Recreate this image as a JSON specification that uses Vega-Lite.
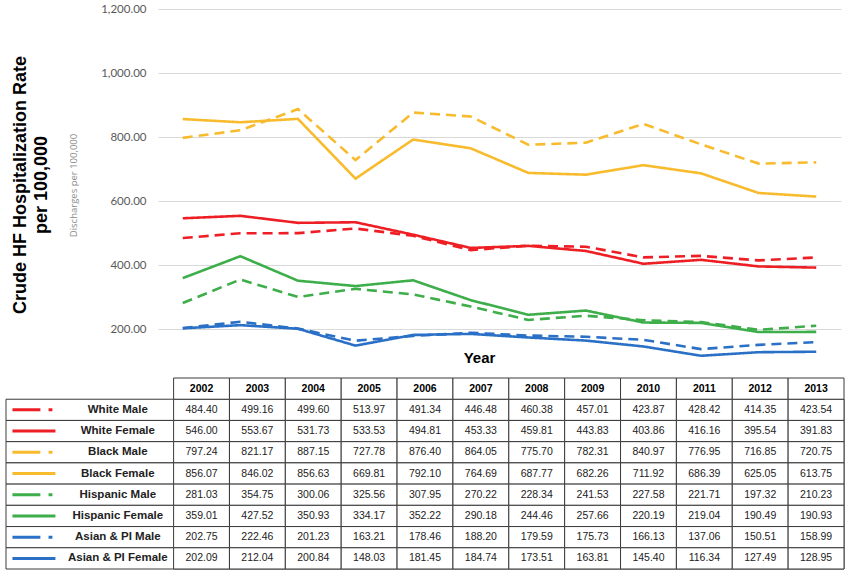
{
  "$schema": "https://vega.github.io/schema/vega-lite/v6.json",
  "padding": {"left": 5, "top": 3, "right": 5, "bottom": 3},
  "background": "white",
  "spacing": 12,
  "config": {"view": {"stroke": null}, "font": "Liberation Sans"},
  "data": {"values": [
    {"series":"White Male","race":"White","sex":"Male","year":2002,"rate":484.40},
    {"series":"White Male","race":"White","sex":"Male","year":2003,"rate":499.16},
    {"series":"White Male","race":"White","sex":"Male","year":2004,"rate":499.60},
    {"series":"White Male","race":"White","sex":"Male","year":2005,"rate":513.97},
    {"series":"White Male","race":"White","sex":"Male","year":2006,"rate":491.34},
    {"series":"White Male","race":"White","sex":"Male","year":2007,"rate":446.48},
    {"series":"White Male","race":"White","sex":"Male","year":2008,"rate":460.38},
    {"series":"White Male","race":"White","sex":"Male","year":2009,"rate":457.01},
    {"series":"White Male","race":"White","sex":"Male","year":2010,"rate":423.87},
    {"series":"White Male","race":"White","sex":"Male","year":2011,"rate":428.42},
    {"series":"White Male","race":"White","sex":"Male","year":2012,"rate":414.35},
    {"series":"White Male","race":"White","sex":"Male","year":2013,"rate":423.54},
    {"series":"White Female","race":"White","sex":"Female","year":2002,"rate":546.00},
    {"series":"White Female","race":"White","sex":"Female","year":2003,"rate":553.67},
    {"series":"White Female","race":"White","sex":"Female","year":2004,"rate":531.73},
    {"series":"White Female","race":"White","sex":"Female","year":2005,"rate":533.53},
    {"series":"White Female","race":"White","sex":"Female","year":2006,"rate":494.81},
    {"series":"White Female","race":"White","sex":"Female","year":2007,"rate":453.33},
    {"series":"White Female","race":"White","sex":"Female","year":2008,"rate":459.81},
    {"series":"White Female","race":"White","sex":"Female","year":2009,"rate":443.83},
    {"series":"White Female","race":"White","sex":"Female","year":2010,"rate":403.86},
    {"series":"White Female","race":"White","sex":"Female","year":2011,"rate":416.16},
    {"series":"White Female","race":"White","sex":"Female","year":2012,"rate":395.54},
    {"series":"White Female","race":"White","sex":"Female","year":2013,"rate":391.83},
    {"series":"Black Male","race":"Black","sex":"Male","year":2002,"rate":797.24},
    {"series":"Black Male","race":"Black","sex":"Male","year":2003,"rate":821.17},
    {"series":"Black Male","race":"Black","sex":"Male","year":2004,"rate":887.15},
    {"series":"Black Male","race":"Black","sex":"Male","year":2005,"rate":727.78},
    {"series":"Black Male","race":"Black","sex":"Male","year":2006,"rate":876.40},
    {"series":"Black Male","race":"Black","sex":"Male","year":2007,"rate":864.05},
    {"series":"Black Male","race":"Black","sex":"Male","year":2008,"rate":775.70},
    {"series":"Black Male","race":"Black","sex":"Male","year":2009,"rate":782.31},
    {"series":"Black Male","race":"Black","sex":"Male","year":2010,"rate":840.97},
    {"series":"Black Male","race":"Black","sex":"Male","year":2011,"rate":776.95},
    {"series":"Black Male","race":"Black","sex":"Male","year":2012,"rate":716.85},
    {"series":"Black Male","race":"Black","sex":"Male","year":2013,"rate":720.75},
    {"series":"Black Female","race":"Black","sex":"Female","year":2002,"rate":856.07},
    {"series":"Black Female","race":"Black","sex":"Female","year":2003,"rate":846.02},
    {"series":"Black Female","race":"Black","sex":"Female","year":2004,"rate":856.63},
    {"series":"Black Female","race":"Black","sex":"Female","year":2005,"rate":669.81},
    {"series":"Black Female","race":"Black","sex":"Female","year":2006,"rate":792.10},
    {"series":"Black Female","race":"Black","sex":"Female","year":2007,"rate":764.69},
    {"series":"Black Female","race":"Black","sex":"Female","year":2008,"rate":687.77},
    {"series":"Black Female","race":"Black","sex":"Female","year":2009,"rate":682.26},
    {"series":"Black Female","race":"Black","sex":"Female","year":2010,"rate":711.92},
    {"series":"Black Female","race":"Black","sex":"Female","year":2011,"rate":686.39},
    {"series":"Black Female","race":"Black","sex":"Female","year":2012,"rate":625.05},
    {"series":"Black Female","race":"Black","sex":"Female","year":2013,"rate":613.75},
    {"series":"Hispanic Male","race":"Hispanic","sex":"Male","year":2002,"rate":281.03},
    {"series":"Hispanic Male","race":"Hispanic","sex":"Male","year":2003,"rate":354.75},
    {"series":"Hispanic Male","race":"Hispanic","sex":"Male","year":2004,"rate":300.06},
    {"series":"Hispanic Male","race":"Hispanic","sex":"Male","year":2005,"rate":325.56},
    {"series":"Hispanic Male","race":"Hispanic","sex":"Male","year":2006,"rate":307.95},
    {"series":"Hispanic Male","race":"Hispanic","sex":"Male","year":2007,"rate":270.22},
    {"series":"Hispanic Male","race":"Hispanic","sex":"Male","year":2008,"rate":228.34},
    {"series":"Hispanic Male","race":"Hispanic","sex":"Male","year":2009,"rate":241.53},
    {"series":"Hispanic Male","race":"Hispanic","sex":"Male","year":2010,"rate":227.58},
    {"series":"Hispanic Male","race":"Hispanic","sex":"Male","year":2011,"rate":221.71},
    {"series":"Hispanic Male","race":"Hispanic","sex":"Male","year":2012,"rate":197.32},
    {"series":"Hispanic Male","race":"Hispanic","sex":"Male","year":2013,"rate":210.23},
    {"series":"Hispanic Female","race":"Hispanic","sex":"Female","year":2002,"rate":359.01},
    {"series":"Hispanic Female","race":"Hispanic","sex":"Female","year":2003,"rate":427.52},
    {"series":"Hispanic Female","race":"Hispanic","sex":"Female","year":2004,"rate":350.93},
    {"series":"Hispanic Female","race":"Hispanic","sex":"Female","year":2005,"rate":334.17},
    {"series":"Hispanic Female","race":"Hispanic","sex":"Female","year":2006,"rate":352.22},
    {"series":"Hispanic Female","race":"Hispanic","sex":"Female","year":2007,"rate":290.18},
    {"series":"Hispanic Female","race":"Hispanic","sex":"Female","year":2008,"rate":244.46},
    {"series":"Hispanic Female","race":"Hispanic","sex":"Female","year":2009,"rate":257.66},
    {"series":"Hispanic Female","race":"Hispanic","sex":"Female","year":2010,"rate":220.19},
    {"series":"Hispanic Female","race":"Hispanic","sex":"Female","year":2011,"rate":219.04},
    {"series":"Hispanic Female","race":"Hispanic","sex":"Female","year":2012,"rate":190.49},
    {"series":"Hispanic Female","race":"Hispanic","sex":"Female","year":2013,"rate":190.93},
    {"series":"Asian & PI Male","race":"Asian & PI","sex":"Male","year":2002,"rate":202.75},
    {"series":"Asian & PI Male","race":"Asian & PI","sex":"Male","year":2003,"rate":222.46},
    {"series":"Asian & PI Male","race":"Asian & PI","sex":"Male","year":2004,"rate":201.23},
    {"series":"Asian & PI Male","race":"Asian & PI","sex":"Male","year":2005,"rate":163.21},
    {"series":"Asian & PI Male","race":"Asian & PI","sex":"Male","year":2006,"rate":178.46},
    {"series":"Asian & PI Male","race":"Asian & PI","sex":"Male","year":2007,"rate":188.20},
    {"series":"Asian & PI Male","race":"Asian & PI","sex":"Male","year":2008,"rate":179.59},
    {"series":"Asian & PI Male","race":"Asian & PI","sex":"Male","year":2009,"rate":175.73},
    {"series":"Asian & PI Male","race":"Asian & PI","sex":"Male","year":2010,"rate":166.13},
    {"series":"Asian & PI Male","race":"Asian & PI","sex":"Male","year":2011,"rate":137.06},
    {"series":"Asian & PI Male","race":"Asian & PI","sex":"Male","year":2012,"rate":150.51},
    {"series":"Asian & PI Male","race":"Asian & PI","sex":"Male","year":2013,"rate":158.99},
    {"series":"Asian & PI Female","race":"Asian & PI","sex":"Female","year":2002,"rate":202.09},
    {"series":"Asian & PI Female","race":"Asian & PI","sex":"Female","year":2003,"rate":212.04},
    {"series":"Asian & PI Female","race":"Asian & PI","sex":"Female","year":2004,"rate":200.84},
    {"series":"Asian & PI Female","race":"Asian & PI","sex":"Female","year":2005,"rate":148.03},
    {"series":"Asian & PI Female","race":"Asian & PI","sex":"Female","year":2006,"rate":181.45},
    {"series":"Asian & PI Female","race":"Asian & PI","sex":"Female","year":2007,"rate":184.74},
    {"series":"Asian & PI Female","race":"Asian & PI","sex":"Female","year":2008,"rate":173.51},
    {"series":"Asian & PI Female","race":"Asian & PI","sex":"Female","year":2009,"rate":163.81},
    {"series":"Asian & PI Female","race":"Asian & PI","sex":"Female","year":2010,"rate":145.40},
    {"series":"Asian & PI Female","race":"Asian & PI","sex":"Female","year":2011,"rate":116.34},
    {"series":"Asian & PI Female","race":"Asian & PI","sex":"Female","year":2012,"rate":127.49},
    {"series":"Asian & PI Female","race":"Asian & PI","sex":"Female","year":2013,"rate":128.95}
  ]},
  "vconcat": [
    {
      "width": 838,
      "height": 352,
      "title": {
        "text": ["Crude HF Hospitalization  Rate", "per 100,000"],
        "orient": "left",
        "anchor": "middle",
        "font": "Liberation Sans",
        "fontSize": 18,
        "fontWeight": "bold",
        "lineHeight": 21,
        "offset": -45,
        "color": "black"
      },
      "mark": {"type": "line", "strokeWidth": 2.6},
      "encoding": {
        "x": {
          "field": "year", "type": "ordinal",
          "scale": {"type": "point", "padding": 0.43, "range": [152, 835]},
          "axis": {"title": "Year", "labels": false, "ticks": false, "domain": false, "grid": false,
                   "titleFont": "Liberation Sans", "titleFontSize": 15, "titleFontWeight": "bold",
                   "titleColor": "black", "titlePadding": -11, "titleX": 473}
        },
        "y": {
          "field": "rate", "type": "quantitative",
          "scale": {"domain": [100, 1200], "nice": false, "zero": false},
          "axis": {
            "offset": -152,
            "values": [200, 400, 600, 800, 1000, 1200],
            "format": ",.2f",
            "title": "Discharges per 100,000",
            "titleFont": "Open Sans", "titleFontSize": 9.5, "titleFontWeight": "normal", "titleColor": "#8c8c8c",
            "titlePadding": 23,
            "labelFont": "Lato", "labelFontSize": 11.5, "labelColor": "#595959", "labelPadding": 12,
            "minExtent": 57, "maxExtent": 57,
            "domain": false, "ticks": false,
            "gridColor": "#d9d9d9", "gridWidth": 1
          }
        },
        "color": {
          "field": "race", "type": "nominal",
          "scale": {"domain": ["White", "Black", "Hispanic", "Asian & PI"],
                    "range": ["#ee1f24", "#f8bb2d", "#3dae4a", "#2a70c6"]},
          "legend": null
        },
        "strokeDash": {
          "field": "sex", "type": "nominal",
          "scale": {"domain": ["Male", "Female"], "range": [[10, 6], [1, 0]]},
          "legend": null
        },
        "detail": {"field": "series", "type": "nominal"}
      }
    },
    {
      "width": 838,
      "height": 191,
      "layer": [
        {
          "transform": [{"aggregate": [{"op": "count", "as": "n"}], "groupby": ["series"]}],
          "mark": {"type": "rect", "fill": "white", "stroke": "#3a3a3a", "strokeWidth": 1},
          "encoding": {
            "y": {"field": "series", "type": "ordinal",
                  "scale": {"type": "band", "domain": ["hdr", "White Male", "White Female", "Black Male", "Black Female", "Hispanic Male", "Hispanic Female", "Asian & PI Male", "Asian & PI Female"], "paddingInner": 0, "paddingOuter": 0},
                  "axis": null}
          }
        },
        {
          "mark": {"type": "rect", "fill": "white", "stroke": "#3a3a3a", "strokeWidth": 1},
          "encoding": {
            "x": {"field": "year", "type": "ordinal",
                  "scale": {"type": "band", "domain": ["s", "n1", "n2", 2002, 2003, 2004, 2005, 2006, 2007, 2008, 2009, 2010, 2011, 2012, 2013], "paddingInner": 0, "paddingOuter": 0},
                  "axis": null},
            "y": {"field": "series", "type": "ordinal"}
          }
        },
        {
          "transform": [{"aggregate": [{"op": "count", "as": "n"}], "groupby": ["year"]}],
          "mark": {"type": "rect", "fill": "white", "stroke": "#3a3a3a", "strokeWidth": 1},
          "encoding": {
            "x": {"field": "year", "type": "ordinal"},
            "y": {"datum": "hdr", "type": "ordinal"}
          }
        },
        {
          "transform": [{"aggregate": [{"op": "count", "as": "n"}], "groupby": ["year"]}],
          "mark": {"type": "text", "font": "Liberation Sans", "fontSize": 10.5, "fontWeight": "bold", "color": "black"},
          "encoding": {
            "x": {"field": "year", "type": "ordinal"},
            "y": {"datum": "hdr", "type": "ordinal"},
            "text": {"field": "year", "type": "nominal"}
          }
        },
        {
          "mark": {"type": "text", "font": "Liberation Sans", "fontSize": 10.5, "color": "#222222"},
          "encoding": {
            "x": {"field": "year", "type": "ordinal"},
            "y": {"field": "series", "type": "ordinal"},
            "text": {"field": "rate", "type": "quantitative", "format": ".2f"}
          }
        },
        {
          "transform": [{"aggregate": [{"op": "count", "as": "n"}], "groupby": ["series"]}],
          "mark": {"type": "text", "font": "Liberation Sans", "fontSize": 11.5, "fontWeight": "bold", "color": "#222222", "dx": 28},
          "encoding": {
            "x": {"datum": "n1", "type": "ordinal"},
            "y": {"field": "series", "type": "ordinal"},
            "text": {"field": "series", "type": "nominal"}
          }
        },
        {
          "transform": [{"aggregate": [{"op": "count", "as": "n"}], "groupby": ["series", "race", "sex"]}],
          "mark": {"type": "point", "filled": false, "strokeWidth": 3, "size": 1849, "strokeCap": "butt", "opacity": 1},
          "encoding": {
            "x": {"datum": "s", "type": "ordinal"},
            "y": {"field": "series", "type": "ordinal"},
            "color": {"field": "race", "type": "nominal", "legend": null},
            "shape": {"field": "sex", "type": "nominal",
                      "scale": {"domain": ["Male", "Female"], "range": ["M-1,0L0.3,0M0.68,0L0.86,0", "M-1,0L1,0"]},
                      "legend": null}
          }
        }
      ]
    }
  ]
}
